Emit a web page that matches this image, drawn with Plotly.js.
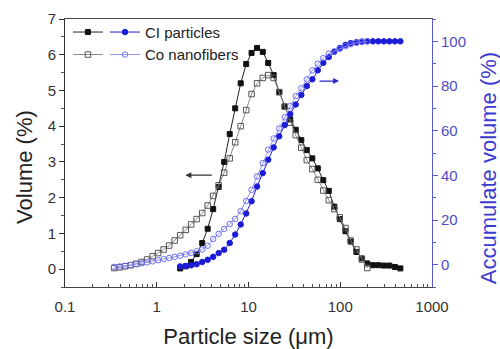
<!DOCTYPE html>
<html>
<head>
<meta charset="utf-8">
<script src="https://cdn.plot.ly/plotly-3.0.1.min.js"></script>
<style>html,body{margin:0;padding:0;background:#fff;}#chart{width:500px;height:349px;}</style>
</head>
<body>
<div id="chart"></div>
<script>
// Particle sizes (µm) for CI particles
const ciSize = [1.80, 2.07, 2.37, 2.72, 3.13, 3.59, 4.12, 4.73, 5.43, 6.24, 7.16, 8.22, 9.44, 10.8, 12.4, 14.3, 16.4, 18.8, 21.6, 24.8, 28.5, 32.7, 37.6, 43.2, 49.6, 56.9, 65.3, 75.0, 86.1, 98.9, 114, 130, 150, 172, 197, 227, 260, 299, 343, 394, 452];
// Volume (%) of CI particles
const ciVolume = [0.02, 0.08, 0.2, 0.42, 0.73, 1.13, 1.68, 2.3, 3.0, 3.78, 4.5, 5.2, 5.74, 6.05, 6.19, 6.08, 5.77, 5.43, 4.96, 4.55, 4.19, 3.9, 3.61, 3.33, 3.1, 2.82, 2.49, 2.19, 1.75, 1.4, 1.06, 0.77, 0.48, 0.3, 0.16, 0.11, 0.11, 0.1, 0.1, 0.06, 0.02];
// Accumulate volume (%) of CI particles
const ciCumulative = [-0.8, -0.6, -0.3, 0.2, 1.2, 2.2, 3.5, 5.2, 6.7, 9.7, 13.5, 18, 22.9, 28.4, 35, 41, 47, 52.5, 57.5, 62.5, 67.5, 71.7, 76, 80, 83, 87, 90.4, 93, 95.3, 97, 98.4, 99.2, 99.6, 99.9, 100, 100, 100, 100, 100, 100, 100];

// Particle sizes (µm) for Co nanofibers
const coSize = [0.343, 0.394, 0.452, 0.519, 0.596, 0.684, 0.785, 0.902, 1.035, 1.189, 1.365, 1.567, 1.80, 2.07, 2.37, 2.72, 3.13, 3.59, 4.12, 4.73, 5.43, 6.24, 7.16, 8.22, 9.44, 10.8, 12.4, 14.3, 16.4, 18.8, 21.6, 24.8, 28.5, 32.7, 37.6, 43.2, 49.6, 56.9, 65.3, 75.0, 86.1, 98.9, 114, 130, 150, 172, 197];
// Volume (%) of Co nanofibers
const coVolume = [0.03, 0.05, 0.08, 0.11, 0.15, 0.2, 0.27, 0.36, 0.45, 0.55, 0.66, 0.8, 0.95, 1.1, 1.25, 1.4, 1.57, 1.78, 2.05, 2.35, 2.7, 3.1, 3.55, 4.0, 4.45, 4.9, 5.2, 5.35, 5.43, 5.35, 4.95, 4.55, 4.1, 3.75, 3.4, 3.05, 2.8, 2.5, 2.2, 1.93, 1.68, 1.45, 1.15, 0.8, 0.55, 0.27, 0.03];
// Accumulate volume (%) of Co nanofibers
const coCumulative = [-1, -0.8, -0.5, -0.2, 0.2, 0.6, 1.0, 1.5, 2.0, 2.5, 3.0, 3.5, 4.0, 4.6, 5.3, 6.0, 6.8, 8.5, 11.5, 13.8, 16, 18.2, 20.5, 24, 28.5, 33.5, 39.5, 45.5, 51.5, 56.5, 61, 66, 71, 75.5, 79, 83, 87, 90, 92.5, 94.5, 95.5, 96.7, 97.8, 98.7, 99.3, 99.7, 100];

const seriesNames = ['CI particles', 'Co nanofibers'];
const xTickVals = [0.1, 1, 10, 100, 1000];
const xTickText = ['0.1', '1', '10', '100', '1000'];
const y2TickVals = [0, 20, 40, 60, 80, 100];

const FONT = 'Liberation Sans, Arial, sans-serif';
const BLUE = '#1c1cd8';
const LBLUE = '#6d6df2';
const AXBLUE = '#5a5ad0';

const xMinor = [];
[0.1, 1, 10, 100].forEach(d => { for (let m = 2; m <= 9; m++) xMinor.push(d * m); });

const traces = [
  {
    x: ciSize, y: ciVolume, type: 'scatter', mode: 'lines+markers',
    name: ' ', legend: 'legend',
    line: {color: '#222', width: 1},
    marker: {symbol: 'square', size: 5, color: '#111', line: {color: '#111', width: 1}}
  },
  {
    x: coSize, y: coVolume, type: 'scatter', mode: 'lines+markers',
    name: ' ', legend: 'legend',
    line: {color: '#8a8a8a', width: 1},
    marker: {symbol: 'square-open', size: 5.5, color: '#555', line: {color: '#555', width: 1}}
  },
  {
    x: ciSize, y: ciCumulative, type: 'scatter', mode: 'lines+markers', yaxis: 'y2',
    name: seriesNames[0], legend: 'legend2',
    line: {color: BLUE, width: 1},
    marker: {symbol: 'circle', size: 5.5, color: BLUE, line: {color: BLUE, width: 1}}
  },
  {
    x: coSize, y: coCumulative, type: 'scatter', mode: 'lines+markers', yaxis: 'y2',
    name: seriesNames[1], legend: 'legend2',
    line: {color: '#9494f5', width: 1},
    marker: {symbol: 'circle-open', size: 5.5, color: LBLUE, line: {color: LBLUE, width: 1}}
  }
];

const layout = {
  width: 500, height: 349,
  margin: {l: 65, r: 68, t: 19, b: 62},
  paper_bgcolor: '#fff', plot_bgcolor: '#fff',
  font: {family: FONT, size: 15, color: '#333'},
  showlegend: true,
  xaxis: {
    type: 'log', range: [-1, 3],
    tickmode: 'array', tickvals: xTickVals, ticktext: xTickText,
    ticks: 'inside', ticklen: 5, tickcolor: '#333',
    ticklabelstandoff: 6,
    minor: {tickmode: 'array', tickvals: xMinor, ticks: 'inside', ticklen: 3, tickcolor: '#555'},
    showline: true, linecolor: '#444', linewidth: 1, mirror: true,
    showgrid: false, zeroline: false,
    tickfont: {size: 15, color: '#333'},
    title: {text: 'Particle size (μm)', font: {size: 22, color: '#222'}, standoff: 14}
  },
  yaxis: {
    range: [-0.5, 7], dtick: 1, tick0: 0,
    ticks: 'outside', ticklen: 5, tickcolor: '#333',
    minor: {dtick: 0.5, ticks: 'outside', ticklen: 3, tickcolor: '#555'},
    showline: true, linecolor: '#333', linewidth: 1,
    showgrid: false, zeroline: false,
    tickfont: {size: 15, color: '#333'}
  },
  yaxis2: {
    overlaying: 'y', side: 'right', range: [-10, 110],
    tickmode: 'array', tickvals: y2TickVals,
    ticks: 'outside', ticklen: 5, tickcolor: AXBLUE,
    minor: {dtick: 10, ticks: 'outside', ticklen: 3, tickcolor: AXBLUE},
    showline: true, linecolor: AXBLUE, linewidth: 1,
    showgrid: false, zeroline: false,
    tickfont: {size: 15, color: '#4c4cc4'}
  },
  legend: {
    x: 0.008, y: 1.012, xanchor: 'left', yanchor: 'top',
    bgcolor: 'rgba(0,0,0,0)', borderwidth: 0,
    font: {family: FONT, size: 15, color: '#222'},
    itemwidth: 30, tracegroupgap: 0
  },
  legend2: {
    x: 0.109, y: 1.012, xanchor: 'left', yanchor: 'top',
    bgcolor: 'rgba(0,0,0,0)', borderwidth: 0,
    font: {family: FONT, size: 15, color: '#222'},
    itemwidth: 30, tracegroupgap: 0
  },
  annotations: [
    {
      x: Math.log10(2.05), y: 2.63, xref: 'x', yref: 'y',
      text: '', showarrow: true, ax: 28, ay: 0,
      arrowhead: 2, arrowsize: 1, arrowwidth: 1.2, arrowcolor: '#333'
    },
    {
      x: Math.log10(97), y: 82.2, xref: 'x', yref: 'y2',
      text: '', showarrow: true, ax: -21, ay: 0,
      arrowhead: 2, arrowsize: 1, arrowwidth: 1.2, arrowcolor: '#2a2ad0'
    },
    {
      text: 'Volume (%)', xref: 'paper', yref: 'paper', x: -0.109, y: 0.448,
      xanchor: 'center', yanchor: 'middle', textangle: -90, showarrow: false,
      font: {family: FONT, size: 22, color: '#222'}
    },
    {
      text: 'Accumulate volume (%)', xref: 'paper', yref: 'paper', x: 1.153, y: 0.444,
      xanchor: 'center', yanchor: 'middle', textangle: -90, showarrow: false,
      font: {family: FONT, size: 22, color: '#3a3ad0'}
    }
  ]
};

Plotly.newPlot('chart', traces, layout, {displayModeBar: false, staticPlot: true});
</script>
</body>
</html>
